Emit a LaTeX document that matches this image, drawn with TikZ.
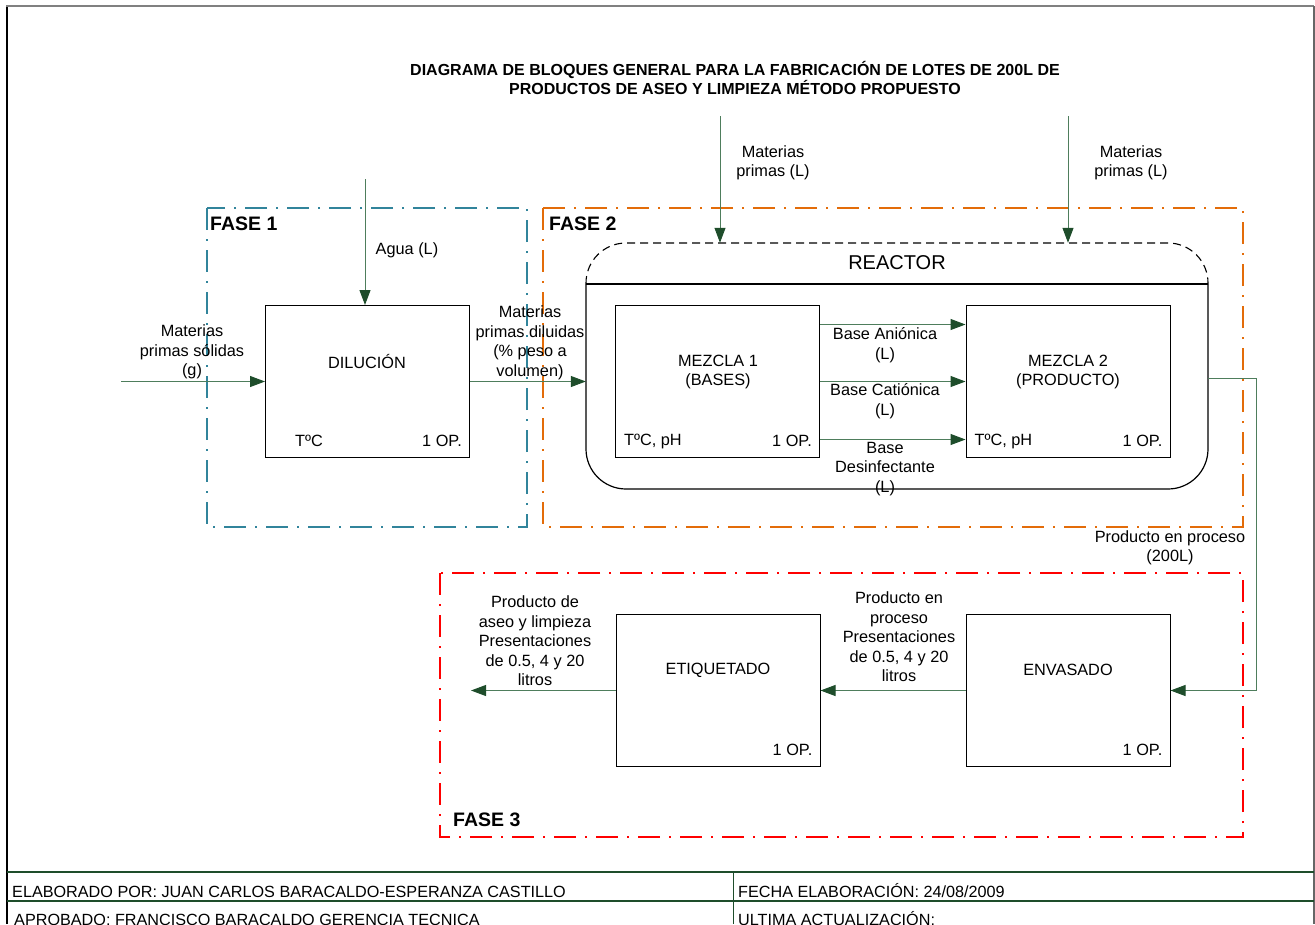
\documentclass[tikz,border=0pt]{standalone}
\usepackage{fontspec}
\setmainfont{Liberation Sans}
\usetikzlibrary{arrows.meta, positioning}
\definecolor{faseteal}{HTML}{31849B}
\definecolor{faseorange}{HTML}{E36C09}
\definecolor{fasered}{HTML}{FF0000}
\definecolor{flowgreen}{HTML}{4E7D5C}
\definecolor{headgreen}{HTML}{1E4D2B}
\definecolor{footgreen}{HTML}{1E4D2B}

\begin{document}
\begin{tikzpicture}[
    x=1pt, y=-1pt,
    txt/.style={font=\fontsize{16.3}{19.5}\selectfont, inner sep=0pt, align=center},
    faselbl/.style={font=\fontsize{19.5}{22}\selectfont\bfseries, anchor=west, inner sep=0pt},
    fasebox/.style={line width=2pt, dash pattern=on 22pt off 9pt on 2pt off 9pt},
    proc/.style={draw, line width=1pt, minimum width=204pt, minimum height=152pt, inner sep=0pt},
    flow/.style={draw=flowgreen, line width=1pt, -{Triangle[length=15pt, width=11pt, color=headgreen]}},
    foot/.style={font=\fontsize{16.2}{18}\selectfont, anchor=base west, inner sep=0pt},
]
    \useasboundingbox (0,0) rectangle (1315,924);
    \clip (0,0) rectangle (1315,924);

    % sheet frame and footer table
    \draw[line width=1.2pt] (7,924) -- (7,6);
    \draw[gray, line width=2pt] (6,6) -- (1314,6);
    \draw[gray!80!black, line width=1.5pt] (1314,6) -- (1314,924);
    \draw[footgreen, line width=1.2pt] (7,872) -- (1314,872);
    \draw[footgreen, line width=1.2pt] (7,901) -- (1314,901);
    \draw[footgreen, line width=0.8pt] (733,872) -- (733,924);

    \node[font=\fontsize{16}{16.5}\selectfont\bfseries, align=center, inner sep=0pt] (title) at (735,78)
        {DIAGRAMA DE BLOQUES GENERAL PARA LA FABRICACIÓN DE LOTES DE 200L DE\\
         PRODUCTOS DE ASEO Y LIMPIEZA MÉTODO PROPUESTO};

    % phases
    \draw[fasebox, faseteal] (207,208) rectangle (527,527);
    \draw[fasebox, faseorange] (543,208) rectangle (1243,527);
    \draw[fasebox, fasered, line width=2.4pt] (440,573) rectangle (1243,837);
    \node[faselbl] (fase1) at (210,224) {FASE 1};
    \node[faselbl] (fase2) at (549,224) {FASE 2};
    \node[faselbl] (fase3) at (453,820) {FASE 3};

    % reactor vessel
    \draw[line width=1.2pt, rounded corners=40pt] (586,284) -- (586,489) -- (1208,489) -- (1208,284);
    \draw[line width=1.2pt] (586,284) -- (1208,284);
    \draw[line width=1.1pt, dash pattern=on 8pt off 5pt, rounded corners=40pt]
        (586,284) -- (586,243) -- (1208,243) -- (1208,284);
    \node[minimum width=622pt, minimum height=246pt, inner sep=0pt] (reactor) at (897,366) {};
    \node[font=\fontsize{20}{24}\selectfont, inner sep=0pt] (reactorlbl) at (897,263) {REACTOR};

    % process blocks
    \node[proc] (dil) at (367.5,381.5) {};
    \node[proc] (mez1) at (717.5,381.5) {};
    \node[proc] (mez2) at (1068,381.5) {};
    \node[proc] (etiq) at (718,690.5) {};
    \node[proc] (env) at (1068,690.5) {};

    \node[txt] (dilname) at (367,362) {DILUCIÓN};
    \node[txt, anchor=west] (dilt) at ([xshift=30pt, yshift=17pt]dil.south west) {TºC};
    \node[txt, anchor=east] (dilop) at ([xshift=-8pt, yshift=17pt]dil.south east) {1 OP.};

    \node[txt] (mez1name) at (718,372) {MEZCLA 1\\(BASES)};
    \node[txt, anchor=west] (mez1t) at ([xshift=9pt, yshift=17pt]mez1.south west) {TºC, pH};
    \node[txt, anchor=east] (mez1op) at ([xshift=-8pt, yshift=17pt]mez1.south east) {1 OP.};

    \node[txt] (mez2name) at (1068,372) {MEZCLA 2\\(PRODUCTO)};
    \node[txt, anchor=west] (mez2t) at ([xshift=9pt, yshift=17pt]mez2.south west) {TºC, pH};
    \node[txt, anchor=east] (mez2op) at ([xshift=-8pt, yshift=17pt]mez2.south east) {1 OP.};

    \node[txt] (etiqname) at (718,670) {ETIQUETADO};
    \node[txt, anchor=east] (etiqop) at ([xshift=-8pt, yshift=17pt]etiq.south east) {1 OP.};
    \node[txt] (envname) at (1068,670) {ENVASADO};
    \node[txt, anchor=east] (envop) at ([xshift=-8pt, yshift=17pt]env.south east) {1 OP.};

    % free ends of the flows
    \coordinate (solin) at (121,381.5);
    \coordinate (aguain) at (365,179);
    \coordinate (mp1in) at (720,116);
    \coordinate (mp2in) at (1068,116);
    \coordinate (turn) at (1256,600);
    \coordinate (prodout) at (471,690.5);

    % flows
    \draw[flow] (solin) -- (dil.west);
    \draw[flow] (aguain) -- (aguain |- dil.north);
    \draw[flow] (dil.east) -- (dil.east -| reactor.west);
    \draw[flow] (mp1in) -- (mp1in |- reactor.north);
    \draw[flow] (mp2in) -- (mp2in |- reactor.north);
    \draw[flow] ([yshift=57pt]mez1.east) -- ([yshift=57pt]mez2.west);
    \draw[flow] (mez1.east) -- (mez2.west);
    \draw[flow] ([yshift=-58pt]mez1.east) -- ([yshift=-58pt]mez2.west);
    \draw[flow] ([yshift=-12pt]reactor.east) -| (turn) |- (env.east);
    \draw[flow] (env.west) -- (etiq.east);
    \draw[flow] (etiq.west) -- (prodout);

    % flow labels
    \node[txt] (lblsol) at (192,352) {Materias\\primas sólidas\\(g)};
    \node[txt] (lblagua) at (407,250) {Agua (L)};
    \node[txt] (lbldil) at (530,343) {Materias\\primas diluidas\\(\% peso a\\volumen)};
    \node[txt] (lblmp1) at (773,163) {Materias\\primas (L)};
    \node[txt] (lblmp2) at (1131,163) {Materias\\primas (L)};
    \node[txt] (lblanion) at (885,345) {Base Aniónica\\(L)};
    \node[txt] (lblcation) at (885,401) {Base Catiónica\\(L)};
    \node[txt] (lbldesinf) at (885,469) {Base\\Desinfectante\\(L)};
    \node[txt] (lblproc) at (1170,548) {Producto en proceso\\(200L)};
    \node[txt] (lblpres) at (899,637) {Producto en\\proceso\\Presentaciones\\de 0.5, 4 y 20\\litros};
    \node[txt] (lblfinal) at (535,641) {Producto de\\aseo y limpieza\\Presentaciones\\de 0.5, 4 y 20\\litros};

    % footer texts
    \node[foot] (elab) at (12,897) {ELABORADO POR: JUAN CARLOS BARACALDO-ESPERANZA CASTILLO};
    \node[foot] (fecha) at (738,897) {FECHA ELABORACIÓN: 24/08/2009};
    \node[foot] (aprob) at (14,925.5) {APROBADO: FRANCISCO BARACALDO GERENCIA TECNICA};
    \node[foot] (actual) at (738,925.5) {ULTIMA ACTUALIZACIÓN:};
\end{tikzpicture}
\end{document}
